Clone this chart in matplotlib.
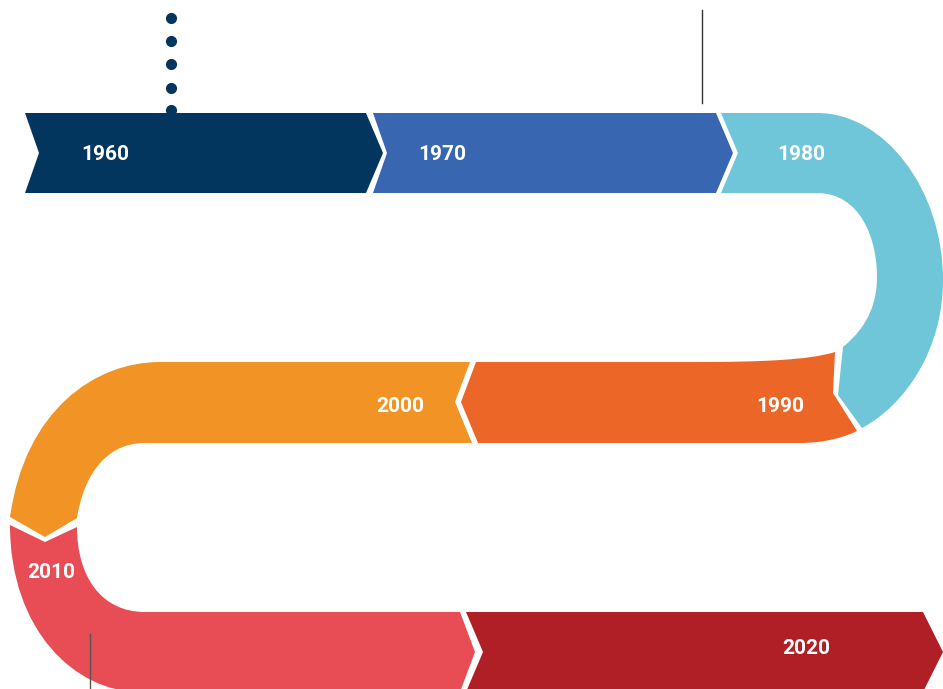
import matplotlib
matplotlib.use("Agg")
import matplotlib.pyplot as plt
from matplotlib.path import Path
from matplotlib.patches import PathPatch

# Dane
years = ["1960", "1970", "1980", "1990", "2000", "2010", "2020"]
colors = ["#03365E", "#3866B0", "#6FC6D8", "#EC6627", "#F29425", "#E84C55", "#B01F26"]

# pozycje etykiet (px, oś y w dół)
label_xy = [(105, 155), (442, 155), (801, 155), (780, 407), (400, 407), (51, 573), (806, 648)]

M, L, C = Path.MOVETO, Path.LINETO, Path.CURVE4

# wiersze wstęgi
r1t, r1b = 113, 193
r2t, r2b = 362, 443
r3t, r3b = 612, 692
r1m, r2m, r3m = (r1t + r1b) / 2, 402, 652


def arrow(x0, x1, top, bot, mid, d=17, notch=True):
    # prosty segment: wcięcie z lewej, grot z prawej
    v = [(x0, top), (x1, top), (x1 + d, mid), (x1, bot), (x0, bot)]
    if notch:
        v.append((x0 + d - 3, mid))
    v.append((x0, top))
    return Path(v, [M] + [L] * (len(v) - 2) + [Path.CLOSEPOLY])


shapes = []
shapes.append(arrow(25, 366, r1t, r1b, r1m, d=17))
shapes.append(arrow(373, 716, r1t, r1b, r1m, d=17))

# 1980 - zakręt w prawo
v = [(721, r1t), (817, r1t),
     (885, r1t), (943, 190), (943, 280),
     (943, 350), (905, 405), (862, 428),
     (838, 395), (843, 347),
     (870, 325), (877, 300), (877, 277),
     (877, 238), (860, r1b), (817, r1b),
     (721, r1b), (738, r1m), (721, r1t)]
c = [M, L, C, C, C, C, C, C, L, L, C, C, C, C, C, C, L, L, Path.CLOSEPOLY]
shapes.append(Path(v, c))

# 1990
v = [(835, 352),
     (810, 360), (760, r2t), (700, r2t),
     (476, r2t), (461, r2m), (478, r2b), (800, r2b),
     (825, r2b), (845, 437), (857, 431),
     (833, 393), (835, 352)]
c = [M, C, C, C, L, L, L, L, C, C, C, L, Path.CLOSEPOLY]
shapes.append(Path(v, c))

# 2000 - zakręt w lewo
v = [(470, r2t), (160, r2t),
     (95, r2t), (25, 410), (10, 517),
     (45, 537), (77, 518),
     (82, 485), (100, r2b), (145, r2b),
     (472, r2b), (455, r2m), (470, r2t)]
c = [M, L, C, C, C, L, L, C, C, C, L, L, Path.CLOSEPOLY]
shapes.append(Path(v, c))

# 2010
v = [(10, 525), (45, 542), (77, 527),
     (77, 575), (100, r3t), (145, r3t),
     (460, r3t), (475, r3m), (460, r3b), (140, r3b),
     (75, r3b), (10, 630), (10, 525)]
c = [M, L, L, C, C, C, L, L, L, L, C, C, C]
shapes.append(Path(v, c))

shapes.append(arrow(466, 923, r3t, r3b, r3m, d=20))

fig = plt.figure(figsize=(9.43, 6.89), dpi=100)
ax = fig.add_axes([0, 0, 1, 1])
ax.set_xlim(0, 943)
ax.set_ylim(689, 0)
ax.axis("off")

# kropki i linie pomocnicze
ax.plot([171] * 5, [18, 41, 64, 88, 110], "o", ms=7, color=colors[0], zorder=1)
ax.plot([702, 702], [10, 103], color="#333333", lw=1)
ax.plot([90, 90], [634, 689], color="#555555", lw=1, zorder=5)

for p, col in zip(shapes, colors):
    ax.add_patch(PathPatch(p, facecolor=col, edgecolor="none", zorder=2))

for yr, (x, y) in zip(years, label_xy):
    ax.text(x, y, yr, color="white", fontsize=15, fontweight="bold",
            family="Roboto", ha="center", va="center", zorder=6)

fig.savefig("out.png", dpi=100)
